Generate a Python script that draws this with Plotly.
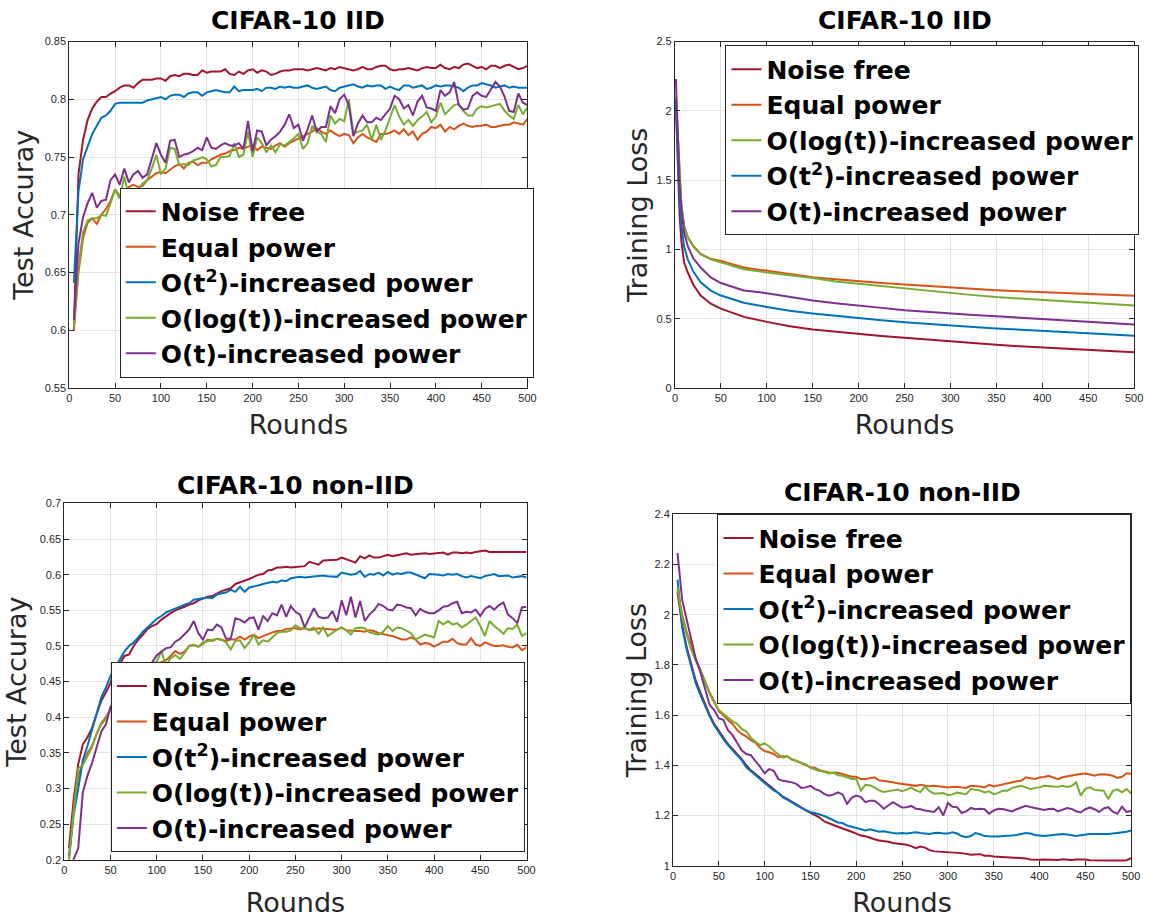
import plotly.graph_objects as go

# ---------------- data ----------------
ROUNDS = list(range(5, 505, 5))
NAMES = ["Noise free", "Equal power", "O(t<sup>2</sup>)-increased power",
         "O(log(t))-increased power", "O(t)-increased power"]
COLORS = {"nf": "#A2142F", "eq": "#D95319", "t2": "#0072BD", "log": "#77AC30", "t": "#7E2F8E"}

X_TICKS = [0, 50, 100, 150, 200, 250, 300, 350, 400, 450, 500]
TL_YTICKS = [0.55, 0.6, 0.65, 0.7, 0.75, 0.8, 0.85]
TR_YTICKS = [0, 0.5, 1, 1.5, 2, 2.5]
BL_YTICKS = [0.2, 0.25, 0.3, 0.35, 0.4, 0.45, 0.5, 0.55, 0.6, 0.65, 0.7]
BR_YTICKS = [1, 1.2, 1.4, 1.6, 1.8, 2, 2.2, 2.4]

# Top-left: CIFAR-10 IID test accuracy
TL_nf = [0.600,0.735,0.765,0.782,0.792,0.798,0.802,0.802,0.805,0.807,
         0.810,0.812,0.812,0.810,0.814,0.817,0.817,0.817,0.818,0.818,
         0.816,0.820,0.821,0.820,0.822,0.822,0.821,0.821,0.825,0.823,
         0.824,0.824,0.824,0.826,0.822,0.821,0.824,0.822,0.825,0.826,
         0.823,0.825,0.824,0.821,0.822,0.824,0.825,0.825,0.826,0.826,
         0.826,0.825,0.826,0.827,0.826,0.825,0.827,0.826,0.828,0.827,
         0.826,0.825,0.826,0.828,0.826,0.826,0.828,0.829,0.829,0.826,
         0.825,0.826,0.826,0.827,0.826,0.825,0.827,0.828,0.827,0.827,
         0.830,0.827,0.826,0.828,0.827,0.830,0.831,0.829,0.827,0.828,
         0.826,0.829,0.829,0.827,0.829,0.830,0.828,0.826,0.827,0.829]
TL_eq = [0.600,0.650,0.680,0.693,0.697,0.692,0.700,0.705,0.712,0.722,
         0.716,0.718,0.724,0.726,0.724,0.725,0.730,0.733,0.736,0.737,
         0.736,0.739,0.742,0.744,0.740,0.745,0.746,0.743,0.745,0.745,
         0.748,0.750,0.752,0.753,0.755,0.756,0.758,0.757,0.759,0.760,
         0.756,0.759,0.758,0.757,0.760,0.762,0.759,0.762,0.764,0.766,
         0.768,0.770,0.772,0.775,0.772,0.770,0.773,0.770,0.768,0.770,
         0.769,0.762,0.767,0.770,0.767,0.765,0.763,0.770,0.770,0.771,
         0.773,0.770,0.774,0.769,0.772,0.765,0.770,0.772,0.776,0.775,
         0.778,0.772,0.776,0.774,0.777,0.779,0.777,0.776,0.777,0.777,
         0.778,0.776,0.776,0.777,0.778,0.778,0.780,0.779,0.778,0.783]
TL_t2 = [0.641,0.720,0.748,0.760,0.770,0.777,0.784,0.786,0.790,0.796,
         0.797,0.797,0.797,0.797,0.797,0.797,0.799,0.800,0.801,0.802,
         0.800,0.803,0.804,0.804,0.802,0.805,0.806,0.806,0.803,0.806,
         0.807,0.808,0.807,0.806,0.806,0.811,0.807,0.808,0.808,0.808,
         0.809,0.807,0.810,0.810,0.809,0.811,0.810,0.811,0.810,0.810,
         0.811,0.812,0.810,0.809,0.810,0.811,0.808,0.807,0.810,0.811,
         0.812,0.813,0.811,0.810,0.812,0.811,0.812,0.812,0.809,0.811,
         0.809,0.808,0.812,0.812,0.810,0.811,0.812,0.809,0.810,0.812,
         0.811,0.812,0.812,0.811,0.810,0.807,0.810,0.812,0.812,0.814,
         0.813,0.812,0.810,0.811,0.812,0.810,0.811,0.810,0.810,0.810]
TL_log = [0.603,0.655,0.685,0.695,0.697,0.697,0.700,0.699,0.710,0.722,
          0.714,0.733,0.716,0.718,0.722,0.727,0.730,0.740,0.752,0.735,
          0.740,0.758,0.757,0.743,0.744,0.743,0.747,0.748,0.750,0.748,
          0.742,0.743,0.750,0.750,0.751,0.762,0.750,0.752,0.772,0.750,
          0.767,0.762,0.754,0.760,0.754,0.761,0.760,0.763,0.766,0.770,
          0.757,0.762,0.777,0.772,0.770,0.763,0.786,0.779,0.783,0.781,
          0.800,0.770,0.772,0.773,0.778,0.765,0.778,0.765,0.773,0.784,
          0.795,0.785,0.778,0.782,0.777,0.782,0.785,0.789,0.780,0.785,
          0.797,0.787,0.791,0.795,0.796,0.790,0.786,0.786,0.792,0.794,
          0.793,0.794,0.795,0.796,0.790,0.786,0.783,0.795,0.787,0.793]
TL_t = [0.609,0.675,0.698,0.710,0.719,0.706,0.712,0.713,0.730,0.735,
        0.726,0.740,0.728,0.735,0.738,0.732,0.735,0.748,0.762,0.752,
        0.745,0.764,0.765,0.750,0.752,0.753,0.755,0.758,0.756,0.767,
        0.758,0.757,0.760,0.762,0.760,0.760,0.762,0.757,0.781,0.755,
        0.773,0.772,0.760,0.765,0.768,0.772,0.778,0.787,0.775,0.778,
        0.764,0.774,0.786,0.772,0.776,0.776,0.794,0.788,0.800,0.804,
        0.795,0.768,0.779,0.786,0.780,0.780,0.784,0.782,0.787,0.792,
        0.803,0.800,0.792,0.795,0.786,0.798,0.803,0.793,0.792,0.790,
        0.808,0.803,0.806,0.815,0.795,0.791,0.792,0.803,0.806,0.803,
        0.802,0.808,0.815,0.811,0.802,0.790,0.789,0.805,0.797,0.795]

# Top-right: CIFAR-10 IID training loss
TR_ROUNDS = [1, 3, 5, 7, 10, 14, 20, 28, 39, 50, 75, 100, 125, 150, 175, 200,
             225, 250, 275, 300, 325, 350, 375, 400, 425, 450, 475, 500]
TR_nf = [2.05,1.60,1.25,1.06,0.905,0.833,0.745,0.667,0.608,0.572,0.513,0.477,0.445,0.422,
         0.405,0.390,0.375,0.362,0.348,0.335,0.323,0.311,0.301,0.292,0.283,0.275,0.267,0.258]
TR_eq = [2.10,1.82,1.52,1.32,1.17,1.09,1.025,0.968,0.932,0.916,0.869,0.844,0.820,0.799,
         0.784,0.769,0.757,0.747,0.736,0.725,0.715,0.705,0.698,0.692,0.685,0.678,0.672,0.666]
TR_log = [2.10,1.82,1.52,1.32,1.17,1.083,1.02,0.964,0.928,0.905,0.857,0.834,0.814,0.793,
          0.768,0.751,0.735,0.722,0.705,0.686,0.670,0.656,0.646,0.636,0.627,0.619,0.607,0.595]
TR_t2 = [2.08,1.68,1.35,1.17,1.02,0.928,0.84,0.762,0.703,0.667,0.615,0.585,0.558,0.538,
         0.520,0.503,0.488,0.475,0.462,0.450,0.440,0.430,0.420,0.411,0.402,0.394,0.386,0.376]
TR_t = [2.23,1.80,1.48,1.29,1.12,1.023,0.935,0.869,0.798,0.757,0.703,0.684,0.655,0.631,
        0.612,0.597,0.578,0.561,0.548,0.536,0.527,0.517,0.507,0.498,0.489,0.479,0.469,0.458]

# Bottom-left: CIFAR-10 non-IID test accuracy
BL_nf = [0.216,0.283,0.334,0.362,0.372,0.385,0.405,0.423,0.435,0.448,
         0.468,0.475,0.486,0.488,0.500,0.509,0.516,0.524,0.528,0.531,
         0.537,0.542,0.546,0.550,0.552,0.555,0.558,0.560,0.564,0.567,
         0.569,0.570,0.574,0.577,0.579,0.581,0.587,0.589,0.591,0.594,
         0.597,0.600,0.601,0.606,0.607,0.610,0.610,0.611,0.610,0.611,
         0.611,0.612,0.618,0.616,0.614,0.620,0.620,0.620,0.621,0.624,
         0.622,0.620,0.617,0.626,0.623,0.627,0.624,0.624,0.626,0.628,
         0.626,0.627,0.628,0.630,0.628,0.629,0.629,0.630,0.629,0.630,
         0.631,0.631,0.628,0.631,0.631,0.630,0.631,0.630,0.632,0.633,
         0.634,0.632,0.632,0.633,0.633,0.633,0.633,0.633,0.632,0.632]
BL_eq = [0.200,0.272,0.318,0.335,0.350,0.360,0.375,0.392,0.400,0.412,
         0.425,0.435,0.445,0.452,0.458,0.462,0.466,0.470,0.472,0.475,
         0.478,0.480,0.486,0.493,0.489,0.492,0.500,0.501,0.499,0.503,
         0.509,0.507,0.510,0.509,0.507,0.509,0.509,0.513,0.509,0.513,
         0.516,0.511,0.514,0.516,0.519,0.521,0.521,0.524,0.525,0.525,
         0.523,0.525,0.522,0.524,0.525,0.524,0.523,0.523,0.523,0.526,
         0.522,0.521,0.521,0.521,0.520,0.522,0.521,0.518,0.516,0.515,
         0.514,0.512,0.509,0.509,0.512,0.509,0.502,0.504,0.503,0.499,
         0.503,0.506,0.506,0.510,0.504,0.502,0.502,0.511,0.502,0.500,
         0.505,0.503,0.500,0.500,0.501,0.499,0.498,0.502,0.494,0.498]
BL_t2 = [0.205,0.262,0.300,0.340,0.360,0.382,0.405,0.428,0.442,0.458,
         0.470,0.482,0.492,0.500,0.505,0.512,0.520,0.526,0.532,0.538,
         0.542,0.547,0.550,0.552,0.555,0.558,0.560,0.565,0.566,0.567,
         0.568,0.567,0.572,0.574,0.575,0.579,0.576,0.583,0.576,0.582,
         0.583,0.585,0.587,0.589,0.590,0.589,0.592,0.591,0.595,0.596,
         0.597,0.596,0.597,0.597,0.599,0.599,0.598,0.597,0.597,0.603,
         0.601,0.600,0.601,0.605,0.597,0.601,0.600,0.603,0.599,0.604,
         0.600,0.602,0.601,0.603,0.603,0.600,0.598,0.595,0.601,0.601,
         0.600,0.599,0.601,0.600,0.601,0.598,0.596,0.598,0.597,0.595,
         0.598,0.600,0.601,0.598,0.598,0.599,0.596,0.597,0.598,0.596]
BL_log = [0.200,0.262,0.328,0.333,0.345,0.358,0.378,0.390,0.398,0.410,
          0.418,0.425,0.435,0.440,0.448,0.455,0.462,0.468,0.476,0.478,
          0.493,0.472,0.483,0.487,0.482,0.490,0.500,0.502,0.499,0.505,
          0.507,0.509,0.510,0.509,0.505,0.495,0.507,0.508,0.497,0.505,
          0.516,0.502,0.508,0.506,0.512,0.518,0.520,0.520,0.522,0.529,
          0.525,0.525,0.523,0.526,0.517,0.526,0.514,0.518,0.523,0.525,
          0.522,0.516,0.525,0.526,0.525,0.519,0.517,0.516,0.520,0.528,
          0.521,0.526,0.525,0.522,0.518,0.509,0.513,0.516,0.514,0.512,
          0.535,0.530,0.535,0.530,0.532,0.526,0.530,0.535,0.540,0.528,
          0.514,0.535,0.528,0.523,0.517,0.525,0.524,0.530,0.514,0.518]
BL_t = [0.185,0.200,0.216,0.295,0.318,0.336,0.360,0.380,0.390,0.415,
        0.420,0.428,0.436,0.445,0.452,0.460,0.468,0.474,0.477,0.487,
        0.492,0.497,0.498,0.506,0.510,0.516,0.523,0.535,0.518,0.509,
        0.523,0.522,0.530,0.526,0.510,0.510,0.539,0.537,0.533,0.539,
        0.540,0.523,0.542,0.535,0.546,0.543,0.558,0.541,0.556,0.548,
        0.544,0.526,0.540,0.553,0.541,0.539,0.540,0.549,0.534,0.564,
        0.543,0.569,0.540,0.563,0.535,0.544,0.550,0.559,0.556,0.551,
        0.550,0.558,0.557,0.554,0.553,0.543,0.552,0.548,0.546,0.546,
        0.550,0.555,0.556,0.560,0.562,0.546,0.548,0.547,0.551,0.542,
        0.552,0.556,0.551,0.557,0.561,0.544,0.539,0.532,0.554,0.555]

# Bottom-right: CIFAR-10 non-IID training loss
BR_nf = [2.09,1.96,1.87,1.80,1.735,1.69,1.645,1.60,1.565,1.535,
         1.51,1.485,1.465,1.445,1.425,1.40,1.38,1.365,1.35,1.335,
         1.32,1.305,1.29,1.275,1.265,1.255,1.245,1.232,1.22,1.21,
         1.20,1.192,1.176,1.17,1.162,1.155,1.148,1.14,1.135,1.128,
         1.12,1.117,1.11,1.105,1.10,1.098,1.095,1.09,1.088,1.085,
         1.083,1.078,1.070,1.076,1.072,1.062,1.057,1.056,1.055,1.054,
         1.055,1.054,1.050,1.047,1.044,1.045,1.046,1.040,1.040,1.037,
         1.036,1.034,1.033,1.031,1.030,1.030,1.029,1.025,1.023,1.024,
         1.025,1.024,1.023,1.023,1.026,1.024,1.023,1.025,1.026,1.025,
         1.022,1.021,1.023,1.022,1.021,1.021,1.020,1.021,1.022,1.030]
BR_eq = [2.10,2.00,1.93,1.87,1.82,1.78,1.735,1.69,1.655,1.615,
         1.60,1.58,1.565,1.54,1.525,1.515,1.50,1.49,1.47,1.457,
         1.452,1.445,1.432,1.436,1.435,1.423,1.417,1.41,1.40,1.392,
         1.39,1.38,1.375,1.371,1.37,1.37,1.365,1.358,1.354,1.354,
         1.345,1.345,1.35,1.352,1.34,1.338,1.335,1.332,1.328,1.325,
         1.322,1.320,1.318,1.322,1.318,1.316,1.318,1.315,1.313,1.312,
         1.313,1.314,1.312,1.310,1.318,1.318,1.315,1.312,1.322,1.316,
         1.320,1.325,1.330,1.332,1.336,1.338,1.352,1.348,1.345,1.351,
         1.353,1.358,1.350,1.345,1.352,1.356,1.358,1.362,1.365,1.367,
         1.363,1.358,1.363,1.364,1.362,1.358,1.350,1.354,1.368,1.366]
BR_t2 = [2.14,1.95,1.86,1.79,1.725,1.68,1.635,1.595,1.56,1.53,
         1.505,1.48,1.46,1.44,1.42,1.392,1.375,1.36,1.345,1.33,
         1.315,1.30,1.29,1.272,1.262,1.25,1.24,1.23,1.22,1.213,
         1.21,1.205,1.198,1.19,1.18,1.172,1.17,1.16,1.155,1.15,
         1.147,1.14,1.145,1.14,1.135,1.137,1.135,1.13,1.128,1.13,
         1.128,1.130,1.133,1.130,1.128,1.126,1.130,1.131,1.128,1.128,
         1.133,1.128,1.118,1.113,1.118,1.130,1.125,1.118,1.117,1.115,
         1.116,1.118,1.118,1.120,1.122,1.125,1.130,1.128,1.122,1.120,
         1.118,1.120,1.122,1.124,1.126,1.124,1.122,1.118,1.121,1.124,
         1.126,1.126,1.125,1.124,1.126,1.128,1.130,1.132,1.135,1.140]
BR_log = [2.11,1.99,1.92,1.86,1.815,1.78,1.73,1.685,1.65,1.62,
          1.605,1.59,1.575,1.565,1.545,1.535,1.51,1.495,1.48,1.487,
          1.475,1.458,1.445,1.43,1.436,1.423,1.417,1.41,1.404,1.39,
          1.384,1.377,1.375,1.367,1.371,1.36,1.358,1.351,1.345,1.345,
          1.299,1.322,1.32,1.312,1.30,1.294,1.296,1.30,1.303,1.297,
          1.303,1.311,1.300,1.293,1.316,1.297,1.287,1.289,1.290,1.281,
          1.284,1.291,1.288,1.285,1.305,1.302,1.300,1.292,1.296,1.285,
          1.290,1.299,1.299,1.310,1.313,1.318,1.312,1.305,1.310,1.312,
          1.318,1.318,1.315,1.314,1.318,1.314,1.318,1.332,1.279,1.306,
          1.312,1.302,1.299,1.299,1.266,1.298,1.304,1.292,1.305,1.288]
BR_t = [2.245,2.06,1.98,1.90,1.823,1.77,1.70,1.64,1.62,1.587,
        1.581,1.54,1.52,1.49,1.46,1.445,1.44,1.417,1.395,1.368,
        1.385,1.378,1.345,1.338,1.335,1.332,1.325,1.31,1.312,1.318,
        1.305,1.299,1.286,1.279,1.283,1.292,1.284,1.246,1.27,1.279,
        1.273,1.253,1.259,1.259,1.245,1.227,1.24,1.253,1.242,1.232,
        1.233,1.238,1.227,1.225,1.220,1.218,1.214,1.233,1.200,1.250,
        1.235,1.233,1.210,1.216,1.230,1.225,1.227,1.225,1.207,1.220,
        1.227,1.226,1.222,1.216,1.225,1.232,1.239,1.234,1.230,1.225,
        1.222,1.226,1.227,1.216,1.224,1.230,1.226,1.217,1.212,1.225,
        1.232,1.225,1.214,1.228,1.233,1.215,1.207,1.235,1.214,1.218]

# ---------------- figure ----------------
W, H = 1155, 923
TXT = "#262626"


def fx(p):
    return p / W


def fy(p):
    return 1 - p / H


panels = [
    dict(sfx="", leg="legend", xpx=(67, 530), ypx=(36, 387), x=ROUNDS,
         series=[("nf", TL_nf, 0), ("eq", TL_eq, 1), ("t2", TL_t2, 2), ("log", TL_log, 3), ("t", TL_t, 4)],
         yr=[0.55, 0.85], yt=TL_YTICKS, ylab="Test Accuray", title="CIFAR-10 IID", ty=15,
         lpos=(118, 184), xso=11, yso=3),
    dict(sfx="2", leg="legend2", xpx=(679, 1143), ypx=(36, 387), x=TR_ROUNDS,
         series=[("nf", TR_nf, 0), ("eq", TR_eq, 1), ("log", TR_log, 3), ("t2", TR_t2, 2), ("t", TR_t, 4)],
         yr=[0, 2.5], yt=TR_YTICKS, ylab="Training Loss", title="CIFAR-10 IID", ty=15,
         lpos=(730, 40), xso=11, yso=0),
    dict(sfx="3", leg="legend3", xpx=(62, 529), ypx=(504, 865), x=ROUNDS,
         series=[("nf", BL_nf, 0), ("eq", BL_eq, 1), ("t2", BL_t2, 2), ("log", BL_log, 3), ("t", BL_t, 4)],
         yr=[0.2, 0.7], yt=BL_YTICKS, ylab="Test Accuray", title="CIFAR-10 non-IID", ty=486,
         lpos=(109, 665), xso=18, yso=5),
    dict(sfx="4", leg="legend4", xpx=(677, 1140), ypx=(515, 871), x=ROUNDS,
         series=[("nf", BR_nf, 0), ("eq", BR_eq, 1), ("t2", BR_t2, 2), ("log", BR_log, 3), ("t", BR_t, 4)],
         yr=[1, 2.4], yt=BR_YTICKS, ylab="Training Loss", title="CIFAR-10 non-IID", ty=493,
         lpos=(722, 515), xso=12, yso=0),
]

fig = go.Figure()
layout = dict(width=W, height=H, margin=dict(l=0, r=0, t=0, b=0),
              paper_bgcolor="white", plot_bgcolor="white", annotations=[])


def fmt(v):
    return "%g" % v


for p in panels:
    xa = "x" + p["sfx"]
    ya = "y" + p["sfx"]
    for key, vals, ni in p["series"]:
        fig.add_trace(go.Scatter(x=p["x"], y=vals, mode="lines", name=NAMES[ni],
                                 line=dict(color=COLORS[key], width=2),
                                 xaxis=xa, yaxis=ya, legend=p["leg"], showlegend=True))
    common = dict(showline=True, linecolor=TXT, linewidth=1, mirror="ticks",
                  ticks="inside", ticklen=5, tickcolor=TXT, tickwidth=1,
                  showgrid=True, gridcolor="#e3e3e3", gridwidth=1, zeroline=False,
                  tickfont=dict(family="Liberation Sans, Arial", size=11, color=TXT))
    layout["xaxis" + p["sfx"]] = dict(
        common, domain=[fx(p["xpx"][0]), fx(p["xpx"][1])], anchor=ya, range=[0, 500],
        tickvals=X_TICKS, ticktext=[str(v) for v in X_TICKS],
        title=dict(text="Rounds", font=dict(family="DejaVu Sans", size=27, color=TXT), standoff=p["xso"]))
    layout["yaxis" + p["sfx"]] = dict(
        common, domain=[fy(p["ypx"][1]), fy(p["ypx"][0])], anchor=xa, range=p["yr"],
        tickvals=p["yt"], ticktext=[fmt(v) for v in p["yt"]],
        title=dict(text=p["ylab"], font=dict(family="DejaVu Sans", size=27, color=TXT), standoff=p["yso"]))
    layout[p["leg"]] = dict(
        x=fx(p["lpos"][0]), y=fy(p["lpos"][1]), xanchor="left", yanchor="top",
        bgcolor="white", bordercolor=TXT, borderwidth=1, itemwidth=30,
        font=dict(family="DejaVu Sans", size=25, color="black", weight="bold"),
        tracegroupgap=0)
    cx = (p["xpx"][0] + p["xpx"][1]) / 2
    layout["annotations"].append(dict(
        text="<b>" + p["title"] + "</b>", x=fx(cx), y=fy(p["ty"]), xref="paper", yref="paper",
        xanchor="center", yanchor="middle", showarrow=False,
        font=dict(family="DejaVu Sans", size=25, color="black")))

fig.update_layout(**layout)
fig.write_html("out.html")
